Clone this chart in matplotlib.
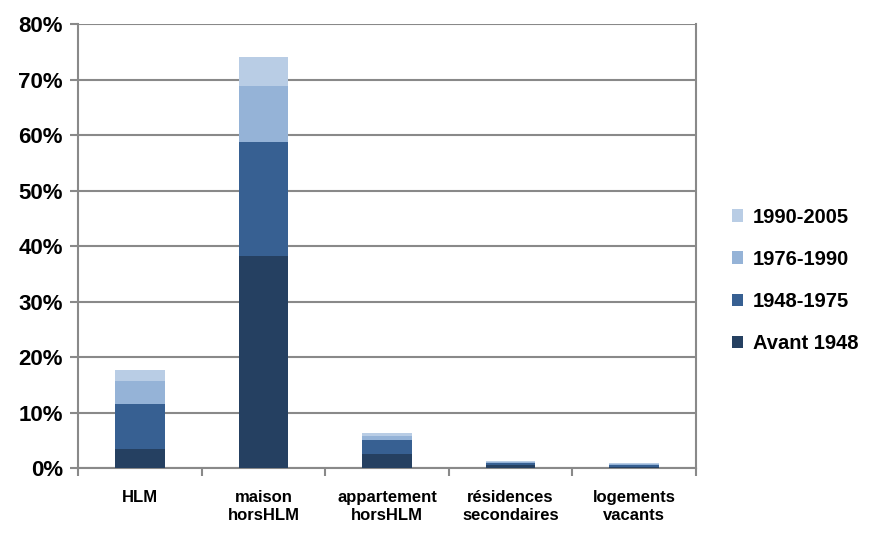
import numpy as np
import matplotlib.pyplot as plt
from matplotlib.ticker import FixedLocator, PercentFormatter

plt.rcParams['font.family'] = ['Liberation Sans', 'DejaVu Sans']
plt.rcParams['font.weight'] = 'bold'

# ── data (share of dwellings, %) ──
categories = ["HLM", "maison\nhorsHLM", "appartement\nhorsHLM",
              "résidences\nsecondaires", "logements\nvacants"]
series_names = ["Avant 1948", "1948-1975", "1976-1990", "1990-2005"]
avant_1948 = [3.5, 38.2, 2.6, 0.5, 0.2]
p1948_1975 = [8.0, 20.5, 2.4, 0.4, 0.3]
p1976_1990 = [4.2, 10.2, 0.8, 0.25, 0.2]
p1990_2005 = [2.0, 5.1, 0.45, 0.15, 0.12]
colors = ["#254061", "#376092", "#95B3D7", "#B9CDE5"]

series = [avant_1948, p1948_1975, p1976_1990, p1990_2005]

fig = plt.figure(figsize=(8.7, 5.35), dpi=100)
ax = fig.add_axes([0.0897, 0.1252, 0.8 - 0.0897, 0.955 - 0.1252])

x = np.arange(len(categories))
bottom = np.zeros(len(categories))
handles = []
for vals, name, col in zip(series, series_names, colors):
    h = ax.bar(x, vals, width=0.40, bottom=bottom, color=col, label=name,
               edgecolor="none", zorder=3)
    handles.append(h)
    bottom += np.array(vals)

grid_col = "#898989"
ax.set_ylim(0, 80)
ax.set_xlim(-0.5, len(categories) - 0.5)
ax.set_yticks(np.arange(0, 81, 10))
ax.yaxis.set_major_formatter(PercentFormatter(decimals=0))
ax.yaxis.grid(True, color=grid_col, linewidth=1.5, zorder=0)

# category labels centred on bars, tick marks between categories
ax.set_xticks(x)
ax.set_xticklabels(categories, fontsize=12, fontweight="bold", linespacing=1.25)
ax.tick_params(axis="x", which="major", length=0, pad=16)
ax.xaxis.set_minor_locator(FixedLocator(np.arange(-0.5, len(categories), 1.0)))
ax.tick_params(axis="x", which="minor", length=6, width=1.5, color=grid_col)
ax.tick_params(axis="y", length=6, width=1.5, color=grid_col,
               labelsize=16, pad=5)
for lab in ax.get_yticklabels():
    lab.set_fontweight("bold")

for side in ["left", "right", "top", "bottom"]:
    ax.spines[side].set_color(grid_col)
    ax.spines[side].set_linewidth(1.5)
ax.spines["top"].set_visible(False)

leg = fig.legend(handles[::-1], series_names[::-1], loc="center left",
                 bbox_to_anchor=(0.82, 0.476), frameon=False,
                 prop={"size": 14.5, "weight": "bold"},
                 handlelength=0.57, handleheight=0.57, handletextpad=0.5,
                 labelspacing=1.15)

fig.savefig("out.png", dpi=100)
